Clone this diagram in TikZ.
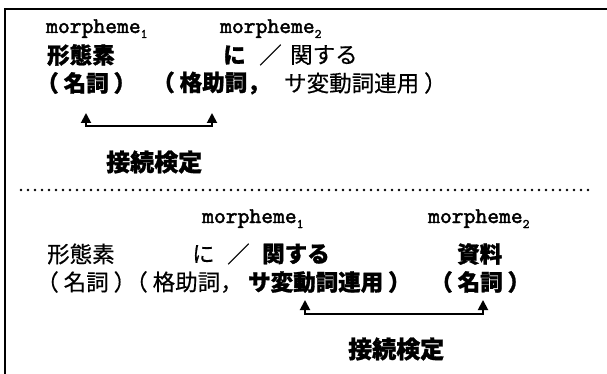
\documentclass[tikz,border=0pt]{standalone}
\usepackage{fontspec}
\newfontfamily\jpfont[FakeBold=0.4, BoldFeatures={FakeBold=1.2}]{Noto Sans CJK JP}
\newfontfamily\monofont[FakeBold=2]{lmmono10-regular.otf}
\usetikzlibrary{arrows.meta}
\newcommand\mysub[1]{\raisebox{-5pt}{\fontsize{13}{13}\selectfont #1}}
\newcommand\LP{\makebox[1em][l]{\kern-0.22em（}}
\newcommand\RP{\makebox[1em][r]{）\kern-0.22em}}
\tikzset{
  jr/.style={inner sep=0pt, anchor=west, font=\jpfont\fontsize{22.5}{23}\selectfont},
  jb/.style={inner sep=0pt, anchor=west, font=\jpfont\bfseries\fontsize{22.5}{23}\selectfont},
  jbig/.style={inner sep=0pt, anchor=west, font=\jpfont\bfseries\fontsize{24}{25}\selectfont},
  mo/.style={inner sep=0pt, anchor=base west, font=\monofont\fontsize{22.5}{23}\selectfont},
  arr/.style={line width=1.9pt, {Triangle[width=10pt,length=10pt]}-{Triangle[width=10pt,length=10pt]}},
  frame/.style={line width=2.8pt},
  sep/.style={line width=2.6pt, line cap=round, dash pattern=on 0pt off 7pt}
}
\begin{document}
\begin{tikzpicture}[x=1pt,y=-1pt]
\useasboundingbox (0,0) rectangle (607,374);
% frame
\coordinate (fb) at (5,376);
\coordinate (ftl) at (5,9);
\coordinate (fr) at (609,9);
\draw[frame] (fb) -- (ftl) -- (fr);
% separator
\coordinate (s1) at (21,190);
\coordinate (s2) at (589,190);
\draw[sep] (s1) -- (s2);

% ---------- top ----------
\node[mo] (tm1) at (46,33) {morpheme\mysub{1}};
\node[mo] (tm2) at (220,33) {morpheme\mysub{2}};
\node[jb] (tk) at (47,55) {形態素};
\node[jb] (tni) at (223,55) {に};
\node[jr] (tsl) at (259,55) {／};
\node[jr] (tkan) at (290,55) {関する};
\node[jb] (tmei) at (41,83) {\LP 名詞\RP};
\node[jb] (tkaku) at (157,83) {\LP 格助詞，};
\node[jr] (tsa) at (284,83) {サ変動詞連用\RP};
\coordinate (ta1) at (86,113);
\coordinate (ta2) at (212,113);
\draw[arr] (ta1) |- ++(63,13) -| (ta2);
\node[jbig] (tsetsu) at (106,162) {接続検定};

% ---------- bottom ----------
\node[mo] (bm1) at (202,223) {morpheme\mysub{1}};
\node[mo] (bm2) at (428,223) {morpheme\mysub{2}};
\node[jr] (bk) at (47,254) {形態素};
\node[jr] (bni) at (192,254) {に};
\node[jr] (bsl) at (227,254) {／};
\node[jb] (bkan) at (262,254) {関する};
\node[jb] (bshi) at (457,254) {資料};
\node[jr] (bmei) at (41,282) {\LP 名詞\RP};
\node[jr] (bkaku) at (130,282) {\LP 格助詞，};
\node[jb] (bsa) at (248,282) {サ変動詞連用\RP};
\node[jb] (bmei2) at (435,282) {\LP 名詞\RP};
\coordinate (ba1) at (305,300);
\coordinate (ba2) at (483,300);
\draw[arr] (ba1) |- ++(90,14) -| (ba2);
\node[jbig] (bsetsu) at (348,349) {接続検定};
\end{tikzpicture}
\end{document}
